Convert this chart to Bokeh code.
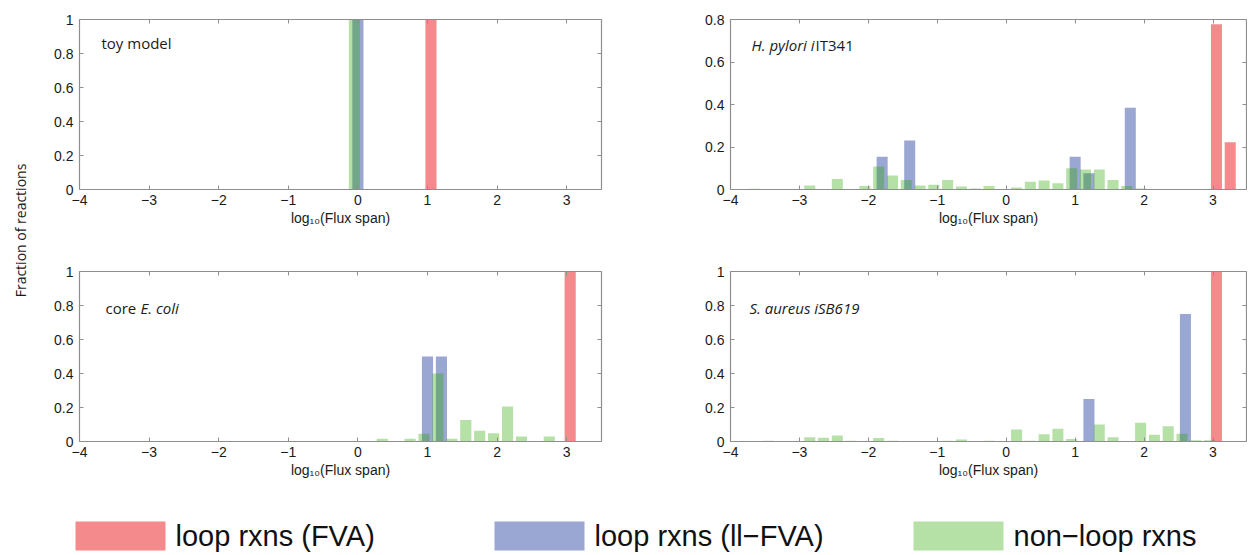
import math
from bokeh.plotting import figure
from bokeh.models import ColumnDataSource, Range1d, LinearAxis, FixedTicker, Label, CustomJSTickFormatter
from bokeh.layouts import column, row
from bokeh.embed import file_html
from bokeh.resources import INLINE
from bokeh.core.properties import value

# ---------------- data ----------------
X_TICKS = [-4, -3, -2, -1, 0, 1, 2, 3]
Y_TICKS_1 = [0, 0.2, 0.4, 0.6, 0.8, 1]
Y_TICKS_08 = [0, 0.2, 0.4, 0.6, 0.8]
SERIES_NAMES = ["loop rxns (FVA)", "loop rxns (ll\u2212FVA)", "non\u2212loop rxns"]
X_LABEL = "log\u2081\u2080(Flux span)"
Y_LABEL = "Fraction of reactions"

# toy model
toy_fva_x = [1.05]
toy_fva_y = [1.0]
toy_ll_x = [0.0]
toy_ll_y = [1.0]
toy_nl_x = [-0.05]
toy_nl_y = [1.0]

# H. pylori iIT341
hp_fva_x = [3.05, 3.25]
hp_fva_y = [0.778, 0.222]
hp_ll_x = [-1.8, -1.4, 1.0, 1.2, 1.8]
hp_ll_y = [0.154, 0.231, 0.154, 0.077, 0.385]
hp_nl_x = [-3.65, -2.85, -2.45, -2.05, -1.85, -1.65, -1.45, -1.25, -1.05, -0.85, -0.65, -0.45,
           -0.25, 0.15, 0.35, 0.55, 0.75, 0.95, 1.15, 1.35, 1.55, 1.75, 1.95]
hp_nl_y = [0.003, 0.019, 0.05, 0.017, 0.108, 0.066, 0.045, 0.019, 0.022, 0.045, 0.014, 0.005,
           0.017, 0.009, 0.036, 0.042, 0.03, 0.1, 0.094, 0.094, 0.045, 0.017, 0.005]

# core E. coli
ec_fva_x = [3.05]
ec_fva_y = [1.0]
ec_ll_x = [1.0, 1.2]
ec_ll_y = [0.5, 0.5]
ec_nl_x = [0.35, 0.75, 0.95, 1.15, 1.35, 1.55, 1.75, 1.95, 2.15, 2.35, 2.75]
ec_nl_y = [0.016, 0.016, 0.045, 0.4, 0.016, 0.127, 0.063, 0.049, 0.206, 0.03, 0.03]

# S. aureus iSB619
sa_fva_x = [3.05]
sa_fva_y = [1.0]
sa_ll_x = [1.2, 2.6]
sa_ll_y = [0.25, 0.75]
sa_nl_x = [-3.85, -3.45, -2.85, -2.65, -2.45, -2.25, -1.85, -1.65, -1.45, -1.25, -0.85, -0.65,
           -0.25, 0.15, 0.35, 0.55, 0.75, 0.95, 1.35, 1.55, 1.95, 2.15, 2.35, 2.55, 2.75, 2.95]
sa_nl_y = [0.002, 0.005, 0.025, 0.022, 0.035, 0.005, 0.02, 0.005, 0.003, 0.003, 0.005, 0.012,
           0.005, 0.07, 0.005, 0.042, 0.075, 0.015, 0.1, 0.025, 0.11, 0.04, 0.09, 0.045, 0.008, 0.008]

# ---------------- style ----------------
RED = "#F48A8C"
BLUE = "#99A7D2"
GREEN = "#2CA600"
GREEN_ALPHA = 0.35
BAR_W = 0.16
AX_COLOR = "#8e8e8e"
TICK_FONT = "Liberation Sans"
LBL_FONT = "Open Sans"

fmt_code = "return String(tick).replace('-', '\u2212');"


def style_axis(ax, labels=True):
    ax.axis_line_color = AX_COLOR
    ax.axis_line_width = 1.2
    ax.major_tick_line_color = AX_COLOR
    ax.major_tick_in = 4
    ax.major_tick_out = 0
    ax.minor_tick_in = 0
    ax.minor_tick_out = 0
    ax.minor_tick_line_color = None
    ax.major_label_text_font = TICK_FONT
    ax.major_label_text_color = "#1a1a1a"
    ax.major_label_text_font_size = "14px"
    if labels:
        ax.formatter = CustomJSTickFormatter(code=fmt_code)
    else:
        ax.formatter = CustomJSTickFormatter(code="return '';")
        ax.major_label_standoff = 0


def panel(width, height, bl, br, bt, bb, xend, ymax, yticks, fva, ll, nl, right_axis=True):
    p = figure(width=width, height=height, x_range=Range1d(-4, xend), y_range=Range1d(0, ymax),
               toolbar_location=None, tools="", output_backend="svg",
               min_border_left=bl, min_border_right=br, min_border_top=bt, min_border_bottom=bb)
    p.grid.visible = False
    p.outline_line_color = None
    p.background_fill_color = "white"
    p.border_fill_color = "white"

    p.xaxis.ticker = FixedTicker(ticks=X_TICKS)
    p.yaxis.ticker = FixedTicker(ticks=yticks)
    style_axis(p.xaxis[0])
    style_axis(p.yaxis[0])
    p.xaxis.major_label_standoff = 5
    p.yaxis.major_label_standoff = 6
    p.xaxis.axis_label = X_LABEL
    p.xaxis.axis_label_text_font = TICK_FONT
    p.xaxis.axis_label_text_font_size = "14px"
    p.xaxis.axis_label_text_font_style = "normal"
    p.xaxis.axis_label_text_color = "#1a1a1a"
    p.xaxis.axis_label_standoff = 2

    top = LinearAxis(ticker=FixedTicker(ticks=X_TICKS))
    style_axis(top, labels=False)
    p.add_layout(top, "above")
    if right_axis:
        rt = LinearAxis(ticker=FixedTicker(ticks=yticks))
        style_axis(rt, labels=False)
        p.add_layout(rt, "right")

    p.vbar(x="x", top="top", width=BAR_W, source=ColumnDataSource(dict(x=fva[0], top=fva[1])),
           fill_color=RED, line_color=None)
    p.vbar(x="x", top="top", width=BAR_W, source=ColumnDataSource(dict(x=ll[0], top=ll[1])),
           fill_color=BLUE, line_color=None)
    p.vbar(x="x", top="top", width=BAR_W, source=ColumnDataSource(dict(x=nl[0], top=nl[1])),
           fill_color=GREEN, fill_alpha=GREEN_ALPHA, line_color=None)
    return p


def add_label(p, x, y, parts):
    off = 0
    for txt, style, w in parts:
        p.add_layout(Label(x=x, y=y, x_offset=off, text=txt, text_font=LBL_FONT,
                           text_font_size="15px", text_font_style=style, text_color="#1a1a1a",
                           text_baseline="middle"))
        off += w


RIGHT_XEND = 3.486

f1 = panel(572, 238, 31, 19, 19, 49, 3.5, 1, Y_TICKS_1,
           (toy_fva_x, toy_fva_y), (toy_ll_x, toy_ll_y), (toy_nl_x, toy_nl_y))
add_label(f1, -3.684, 0.859, [("toy model", "normal", 0)])

f2 = panel(627, 238, 110, 1, 19, 49, RIGHT_XEND, 0.8, Y_TICKS_08,
           (hp_fva_x, hp_fva_y), (hp_ll_x, hp_ll_y), (hp_nl_x, hp_nl_y))
add_label(f2, -3.695, 0.678, [("H. pylori i", "italic", 64), ("IT341", "normal", 0)])

f3 = panel(572, 252, 31, 19, 33, 49, 3.5, 1, Y_TICKS_1,
           (ec_fva_x, ec_fva_y), (ec_ll_x, ec_ll_y), (ec_nl_x, ec_nl_y))
add_label(f3, -3.626, 0.788, [("core ", "normal", 35), ("E. coli", "italic", 0)])

f4 = panel(627, 252, 110, 1, 33, 49, RIGHT_XEND, 1, Y_TICKS_1,
           (sa_fva_x, sa_fva_y), (sa_ll_x, sa_ll_y), (sa_nl_x, sa_nl_y))
add_label(f4, -3.724, 0.788, [("S. aureus iSB619", "italic", 0)])

# y-axis label figure
ylab = figure(width=48, height=490, x_range=Range1d(0, 48), y_range=Range1d(0, 490),
              toolbar_location=None, tools="", output_backend="svg", min_border=0)
ylab.axis.visible = False
ylab.grid.visible = False
ylab.outline_line_color = None
ylab.text(x=[20], y=[260], text=[Y_LABEL], angle=math.pi / 2, text_align="center",
          text_baseline="middle", text_font=value(LBL_FONT), text_font_size=value("14px"),
          text_color="#1a1a1a")

# legend figure
leg = figure(width=1247, height=64, x_range=Range1d(0, 1247), y_range=Range1d(0, 64),
             toolbar_location=None, tools="", output_backend="svg", min_border=0)
leg.axis.visible = False
leg.grid.visible = False
leg.outline_line_color = None
sw_left = [75 + 419 * i for i in range(3)]
sw_cols = [RED, BLUE, GREEN]
sw_alpha = [1.0, 1.0, GREEN_ALPHA]
for i in range(3):
    leg.quad(left=[sw_left[i]], right=[sw_left[i] + 90], bottom=[4], top=[33],
             fill_color=sw_cols[i], fill_alpha=sw_alpha[i], line_color=None)
leg.text(x=[l + 100 for l in sw_left], y=[19] * 3, text=SERIES_NAMES,
         text_font=value(TICK_FONT), text_font_size=value("29px"), text_baseline="middle",
         text_color="#111111")

layout = column(row(ylab, column(row(f1, f2), row(f3, f4))), leg)

open("out.html", "w").write(file_html(layout, INLINE))
